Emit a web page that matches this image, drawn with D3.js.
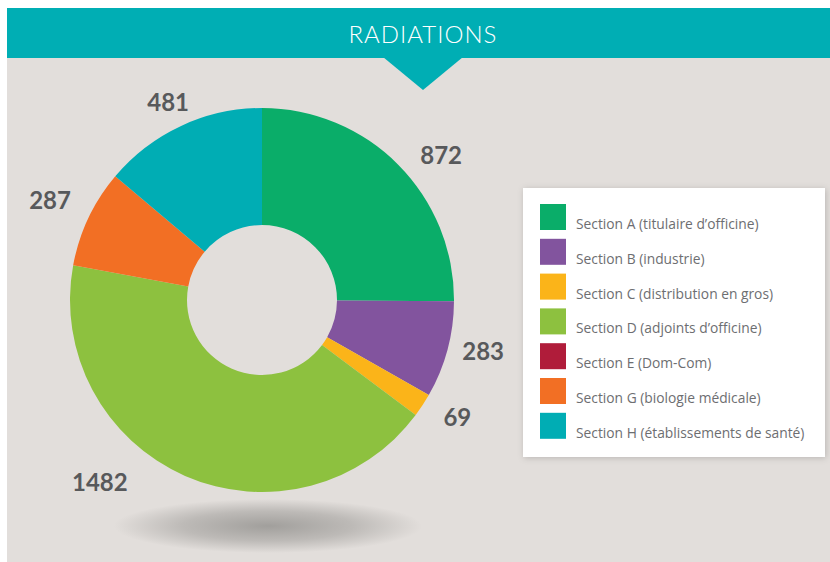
<!DOCTYPE html>
<html>
<head>
<meta charset="utf-8">
<script src="https://cdn.jsdelivr.net/npm/d3@7"></script>
<style>
  html, body { margin: 0; padding: 0; background: #ffffff; }
  svg { display: block; }
</style>
</head>
<body>
<div id="chart"></div>
<script>
// data
const sections = ['A', 'B', 'C', 'D', 'E', 'G', 'H'];
const labels = [
  'Section A (titulaire d\u2019officine)',
  'Section B (industrie)',
  'Section C (distribution en gros)',
  'Section D (adjoints d\u2019officine)',
  'Section E (Dom-Com)',
  'Section G (biologie m\u00e9dicale)',
  'Section H (\u00e9tablissements de sant\u00e9)'
];
const values = [872, 283, 69, 1482, 0, 287, 481];
const colors = ['#0aad69', '#82549e', '#fbb419', '#8dc13f', '#b01c3a', '#f26f24', '#00adb4'];
const title = 'RADIATIONS';

const width = 830;
const height = 562;
const cx = 262, cy = 300;
const outerR = 192, innerR = 75;

const svg = d3.select('#chart')
  .append('svg')
  .attr('width', width)
  .attr('height', height);

// background panel
svg.append('rect')
  .attr('x', 7).attr('y', 8)
  .attr('width', width - 7).attr('height', height - 8)
  .attr('fill', '#e2dedb');

// header band + pointer
svg.append('rect')
  .attr('x', 7).attr('y', 8)
  .attr('width', width - 7).attr('height', 50)
  .attr('fill', '#00aeb4');
svg.append('path')
  .attr('d', 'M383,57 L463,57 L423,90 Z')
  .attr('fill', '#00aeb4');
svg.append('text')
  .attr('x', 423).attr('y', 43)
  .attr('text-anchor', 'middle')
  .style('font-family', 'Lato, sans-serif')
  .style('font-weight', 300)
  .style('font-size', '24px')
  .style('letter-spacing', '1px')
  .style('fill', '#ffffff')
  .text(title);

const defs = svg.append('defs');

// soft shadow under the donut
const grad = defs.append('radialGradient').attr('id', 'shadow');
grad.append('stop').attr('offset', '0%').attr('stop-color', '#a19f9c');
grad.append('stop').attr('offset', '55%').attr('stop-color', '#bdbab7');
grad.append('stop').attr('offset', '100%').attr('stop-color', '#e2dedb');
svg.append('ellipse')
  .attr('cx', 268).attr('cy', 526)
  .attr('rx', 154).attr('ry', 27)
  .attr('fill', 'url(#shadow)');

// donut
const data = sections.map((s, i) => ({ key: s, label: labels[i], value: values[i], color: colors[i] }));

const pie = d3.pie().value(d => d.value).sort(null);
const arc = d3.arc().innerRadius(innerR).outerRadius(outerR);
const labelArc = d3.arc().innerRadius(230).outerRadius(230);
const arcs = pie(data);

const g = svg.append('g').attr('transform', `translate(${cx},${cy})`);

g.selectAll('path')
  .data(arcs)
  .enter().append('path')
  .attr('d', arc)
  .attr('fill', d => d.data.color);

// value labels, nudged off the centroid like the original layout
const labelShift = {
  A: [16, 18], B: [-1, -8], C: [3, -9], D: [-70, -28], G: [-4, -1], H: [3, 11]
};
g.selectAll('text.val')
  .data(arcs.filter(d => d.data.value > 0))
  .enter().append('text')
  .attr('class', 'val')
  .attr('transform', d => {
    const c = labelArc.centroid(d);
    const s = labelShift[d.data.key] || [0, 0];
    return `translate(${c[0] + s[0]},${c[1] + s[1]})`;
  })
  .attr('dy', '0.35em')
  .attr('text-anchor', 'middle')
  .style('font-family', 'Lato, sans-serif')
  .style('font-weight', 700)
  .style('font-size', '24px')
  .style('fill', '#58595b')
  .text(d => d.data.value);

// legend
const filt = defs.append('filter').attr('id', 'boxShadow')
  .attr('x', '-10%').attr('y', '-10%').attr('width', '120%').attr('height', '120%');
filt.append('feDropShadow')
  .attr('dx', 1).attr('dy', 1).attr('stdDeviation', 3)
  .attr('flood-color', '#000').attr('flood-opacity', 0.18);

const legend = svg.append('g').attr('transform', 'translate(523,188)');
legend.append('rect')
  .attr('width', 302).attr('height', 269)
  .attr('fill', '#ffffff')
  .attr('filter', 'url(#boxShadow)');

const item = legend.selectAll('g.item')
  .data(data)
  .enter().append('g')
  .attr('class', 'item')
  .attr('transform', (d, i) => `translate(17,${16 + i * 34.8})`);

item.append('rect')
  .attr('width', 26).attr('height', 26)
  .attr('fill', d => d.color);

item.append('text')
  .attr('x', 36).attr('y', 25)
  .style('font-family', '"Open Sans", sans-serif')
  .style('font-size', '13.8px')
  .style('fill', '#6d6e71')
  .text(d => d.label);
</script>
</body>
</html>
